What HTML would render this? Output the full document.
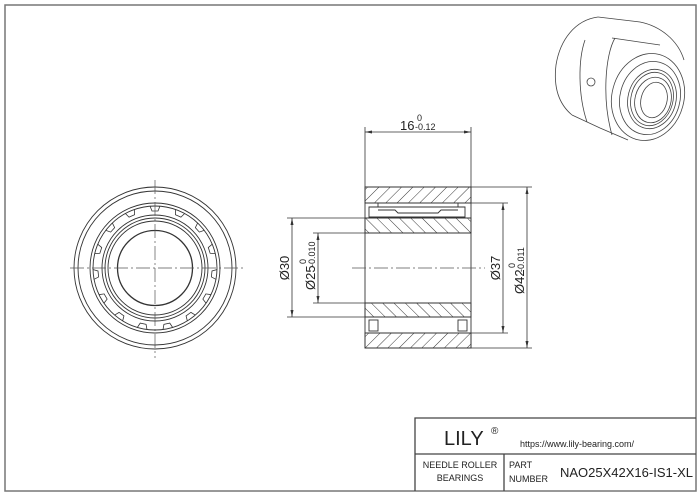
<!DOCTYPE html>
<html><head><meta charset="utf-8"><style>body{margin:0;background:#fff}svg{display:block}</style></head><body>
<svg width="700" height="495" viewBox="0 0 700 495" xmlns="http://www.w3.org/2000/svg" font-family="Liberation Sans, Arial, sans-serif">
<defs>
<pattern id="hf" patternUnits="userSpaceOnUse" width="8" height="8" patternTransform="rotate(45)"><line x1="0" y1="0" x2="0" y2="8" stroke="#222" stroke-width="0.9"/></pattern>
<pattern id="hb" patternUnits="userSpaceOnUse" width="8" height="8" patternTransform="rotate(-45)"><line x1="0" y1="0" x2="0" y2="8" stroke="#222" stroke-width="0.9"/></pattern>
</defs>
<rect x="5" y="5" width="691" height="486" fill="none" stroke="#777" stroke-width="1.5"/>
<!-- left view -->
<g fill="none" stroke="#333" stroke-width="0.9">
<circle cx="155" cy="268" r="81"/><circle cx="155" cy="268" r="77"/>
<circle cx="155" cy="268" r="65"/><circle cx="155" cy="268" r="62"/>
<circle cx="155" cy="268" r="53"/><circle cx="155" cy="268" r="50"/><circle cx="155" cy="268" r="47"/>
<circle cx="155" cy="268" r="37.5" stroke-width="1.3"/>
</g>
<g stroke="#333" stroke-width="0.8" fill="none">
<g transform="translate(155,268)">
<path d="M-5,-62 L-3,-57 L3,-57 L5,-62" transform="rotate(0)"/>
<path d="M-5,-62 L-3,-57 L3,-57 L5,-62" transform="rotate(24)"/>
<path d="M-5,-62 L-3,-57 L3,-57 L5,-62" transform="rotate(48)"/>
<path d="M-5,-62 L-3,-57 L3,-57 L5,-62" transform="rotate(72)"/>
<path d="M-5,-62 L-3,-57 L3,-57 L5,-62" transform="rotate(96)"/>
<path d="M-5,-62 L-3,-57 L3,-57 L5,-62" transform="rotate(120)"/>
<path d="M-5,-62 L-3,-57 L3,-57 L5,-62" transform="rotate(144)"/>
<path d="M-5,-62 L-3,-57 L3,-57 L5,-62" transform="rotate(168)"/>
<path d="M-5,-62 L-3,-57 L3,-57 L5,-62" transform="rotate(192)"/>
<path d="M-5,-62 L-3,-57 L3,-57 L5,-62" transform="rotate(216)"/>
<path d="M-5,-62 L-3,-57 L3,-57 L5,-62" transform="rotate(240)"/>
<path d="M-5,-62 L-3,-57 L3,-57 L5,-62" transform="rotate(264)"/>
<path d="M-5,-62 L-3,-57 L3,-57 L5,-62" transform="rotate(288)"/>
<path d="M-5,-62 L-3,-57 L3,-57 L5,-62" transform="rotate(312)"/>
<path d="M-5,-62 L-3,-57 L3,-57 L5,-62" transform="rotate(336)"/>
</g></g>
<g stroke="#555" stroke-width="0.7" stroke-dasharray="14,3,2,3">
<line x1="70" y1="268" x2="245" y2="268"/><line x1="155" y1="180" x2="155" y2="358"/>
</g>
<!-- section view -->
<rect x="365" y="187" width="106" height="16" fill="url(#hf)" stroke="#333" stroke-width="1"/>
<rect x="365" y="333" width="106" height="15" fill="url(#hf)" stroke="#333" stroke-width="1"/>
<rect x="365" y="218" width="106" height="15" fill="url(#hb)" stroke="#333" stroke-width="1"/>
<rect x="365" y="303" width="106" height="14" fill="url(#hb)" stroke="#333" stroke-width="1"/>
<g fill="none" stroke="#333" stroke-width="0.9">
<line x1="365" y1="203" x2="365" y2="218"/><line x1="471" y1="203" x2="471" y2="218"/>
<line x1="365" y1="317" x2="365" y2="333"/><line x1="471" y1="317" x2="471" y2="333"/>
<line x1="365" y1="233" x2="365" y2="303"/><line x1="471" y1="233" x2="471" y2="303"/>
<path d="M369 207 H465 V217 H369 Z"/>
<path d="M378 210 H395 L398 213 H438 L441 210 H458"/>
<line x1="378" y1="203" x2="378" y2="207"/><line x1="458" y1="203" x2="458" y2="207"/>
<rect x="369" y="320" width="9" height="11"/><rect x="458" y="320" width="9" height="11"/>
</g>
<line x1="352" y1="268" x2="485" y2="268" stroke="#555" stroke-width="0.7" stroke-dasharray="14,3,2,3"/>
<!-- dimensions -->
<g stroke="#333" stroke-width="0.8" fill="none">
<line x1="365" y1="127" x2="365" y2="187"/><line x1="471" y1="127" x2="471" y2="187"/>
<line x1="365" y1="132" x2="471" y2="132"/>
<line x1="287" y1="218" x2="365" y2="218"/><line x1="287" y1="317" x2="365" y2="317"/>
<line x1="292" y1="218" x2="292" y2="317"/>
<line x1="313" y1="233" x2="365" y2="233"/><line x1="313" y1="303" x2="365" y2="303"/>
<line x1="318" y1="233" x2="318" y2="303"/>
<line x1="471" y1="203" x2="508" y2="203"/><line x1="471" y1="333" x2="508" y2="333"/>
<line x1="503" y1="203" x2="503" y2="333"/>
<line x1="471" y1="187" x2="532" y2="187"/><line x1="471" y1="348" x2="532" y2="348"/>
<line x1="527" y1="187" x2="527" y2="348"/>
</g>
<g fill="#333">
<path d="M365 132 l7 -1.5 v3z"/><path d="M471 132 l-7 -1.5 v3z"/>
<path d="M292 218 l-1.5 7 h3z"/><path d="M292 317 l-1.5 -7 h3z"/>
<path d="M318 233 l-1.5 7 h3z"/><path d="M318 303 l-1.5 -7 h3z"/>
<path d="M503 203 l-1.5 7 h3z"/><path d="M503 333 l-1.5 -7 h3z"/>
<path d="M527 187 l-1.5 7 h3z"/><path d="M527 348 l-1.5 -7 h3z"/>
</g>
<g fill="#222">
<text x="400" y="130" font-size="13">16</text><text x="415" y="130" font-size="9">-0.12</text><text x="417" y="121" font-size="9">0</text>
<text transform="translate(289,268) rotate(-90)" font-size="13" text-anchor="middle">Ø30</text>
<text transform="translate(315,290) rotate(-90)" font-size="13">Ø25</text>
<text transform="translate(315,267) rotate(-90)" font-size="9">-0.010</text>
<text transform="translate(306,264) rotate(-90)" font-size="9">0</text>
<text transform="translate(500,268) rotate(-90)" font-size="13" text-anchor="middle">Ø37</text>
<text transform="translate(524,294) rotate(-90)" font-size="13">Ø42</text>
<text transform="translate(524,272) rotate(-90)" font-size="9">-0.011</text>
<text transform="translate(515,268) rotate(-90)" font-size="9">0</text>
</g>
<!-- 3D view -->
<g fill="none" stroke="#444" stroke-width="0.8">
<path d="M598 17 C575 20 560 40 556 65 C553 90 560 105 572 115"/>
<path d="M598 17 L640 22 C660 26 678 40 684 60"/>
<path d="M572 115 L600 128 L628 140"/>
<path d="M585 40 C578 60 578 95 587 122"/>
<path d="M615 38 C605 55 602 100 612 135"/>
<path d="M612 38 L660 45"/>
<ellipse cx="648" cy="97" rx="36" ry="44" transform="rotate(15 648 97)"/>
<ellipse cx="650" cy="98" rx="30" ry="37" transform="rotate(15 650 98)"/>
<ellipse cx="652" cy="99" rx="24" ry="30" transform="rotate(15 652 99)"/>
<ellipse cx="652" cy="99" rx="21" ry="27" transform="rotate(15 652 99)"/>
<ellipse cx="653" cy="100" rx="18" ry="23" transform="rotate(15 653 100)"/>
<ellipse cx="654" cy="100" rx="13" ry="18" transform="rotate(15 654 100)"/>
<circle cx="591" cy="82" r="4"/>
</g>
<!-- title block -->
<g fill="none" stroke="#444" stroke-width="1.3">
<path d="M415 491 V418 H696"/><line x1="415" y1="454" x2="696" y2="454"/><line x1="504" y1="454" x2="504" y2="491"/>
</g>
<g fill="#222">
<text x="444" y="445" font-size="20">LILY</text><text x="491" y="434" font-size="10">®</text>
<text x="520" y="447" font-size="9">https://www.lily-bearing.com/</text>
<text x="460" y="468" font-size="9" text-anchor="middle">NEEDLE  ROLLER</text>
<text x="460" y="481" font-size="9" text-anchor="middle">BEARINGS</text>
<text x="509" y="468" font-size="9">PART</text><text x="509" y="482" font-size="9">NUMBER</text>
<text x="560" y="477" font-size="13">NAO25X42X16-IS1-XL</text>
</g>
</svg>
</body></html>
